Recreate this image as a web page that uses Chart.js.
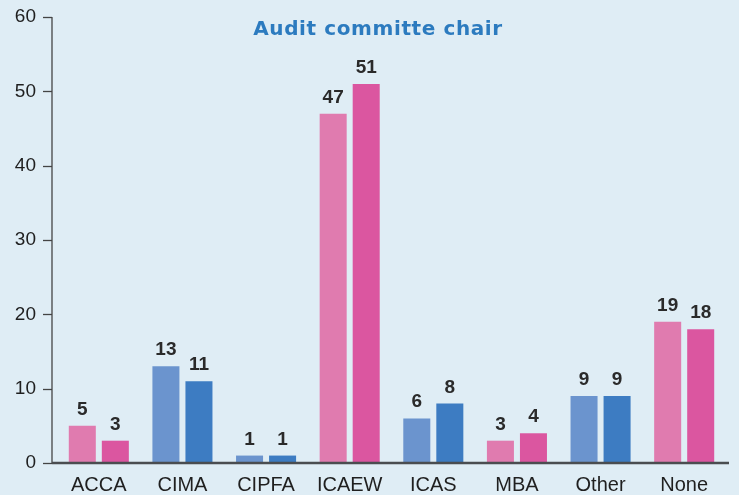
<!DOCTYPE html>
<html>
<head>
<meta charset="utf-8">
<script src="https://cdn.jsdelivr.net/npm/chart.js@4"></script>
<style>
html,body{margin:0;padding:0;background:#dfedf5;}
#wrap{width:739px;height:495px;position:relative;}
</style>
</head>
<body>
<div id="wrap"><canvas id="c" width="739" height="495"></canvas></div>
<script>
const categories = ["ACCA","CIMA","CIPFA","ICAEW","ICAS","MBA","Other","None"];
const seriesA = [5,13,1,47,6,3,9,19];
const seriesB = [3,11,1,51,8,4,9,18];
const yTicks = [0,10,20,30,40,50,60];
const colorGroup = ["pink","blue","blue","pink","blue","pink","blue","pink"];
const titleText = "Audit committe chair";

const lightCol = {pink:"#e07baf", blue:"#6b94ce"};
const darkCol = {pink:"#db56a0", blue:"#3d7cc2"};

const axisPlugin = {
  id:'axisPlugin',
  beforeDraw(chart){
    const ctx = chart.ctx;
    ctx.save();
    ctx.fillStyle = '#dfedf5';
    ctx.fillRect(0,0,chart.width,chart.height);
    ctx.restore();
  },
  afterDatasetsDraw(chart){
    const ctx = chart.ctx;
    const y = chart.scales.y;
    const axX = 52;
    ctx.save();
    ctx.strokeStyle = '#444';
    ctx.lineWidth = 1.3;
    ctx.beginPath();
    ctx.moveTo(axX, y.getPixelForValue(60));
    ctx.lineTo(axX, y.getPixelForValue(0));
    ctx.stroke();
    yTicks.forEach(v=>{
      const py = Math.round(y.getPixelForValue(v))+0.5;
      ctx.beginPath();
      ctx.moveTo(43, py);
      ctx.lineTo(axX, py);
      ctx.stroke();
    });
    ctx.lineWidth = 2.5;
    ctx.strokeStyle = '#4a4d50';
    ctx.beginPath();
    const by = y.getPixelForValue(0);
    ctx.moveTo(axX, by);
    ctx.lineTo(729, by);
    ctx.stroke();
    // data labels
    ctx.fillStyle = '#2a2a2a';
    ctx.font = 'bold 19px "Liberation Sans", Arial, sans-serif';
    ctx.textAlign = 'center';
    ctx.textBaseline = 'alphabetic';
    chart.data.datasets.forEach((ds,di)=>{
      chart.getDatasetMeta(di).data.forEach((bar,i)=>{
        ctx.fillText(String(ds.data[i]), bar.x, bar.y - 11);
      });
    });
    // title
    ctx.fillStyle = '#2c7bbf';
    ctx.font = 'bold 20px "DejaVu Sans", sans-serif';
    ctx.letterSpacing = '0.6px';
    ctx.fillText(titleText, 378, 35);
    ctx.restore();
  }
};

new Chart(document.getElementById('c'), {
  type:'bar',
  data:{
    labels:categories,
    datasets:[
      {data:seriesA, backgroundColor:colorGroup.map(g=>lightCol[g]), borderWidth:0},
      {data:seriesB, backgroundColor:colorGroup.map(g=>darkCol[g]), borderWidth:0}
    ]
  },
  options:{
    responsive:false,
    animation:false,
    devicePixelRatio:1,
    categoryPercentage:0.79,
    barPercentage:0.818,
    layout:{padding:{left:0,right:13,top:17,bottom:0}},
    plugins:{legend:{display:false},tooltip:{enabled:false},title:{display:false}},
    scales:{
      x:{
        grid:{display:false,drawTicks:false},
        border:{display:false},
        ticks:{color:'#1f1f1f',font:{size:20,family:'"Liberation Sans", Arial, sans-serif'},padding:10,maxRotation:0},
        afterFit(s){s.height = 32; s.paddingLeft = 0; s.paddingRight = 0;}
      },
      y:{
        min:0,max:60,
        grid:{display:false,drawTicks:false},
        border:{display:false},
        ticks:{stepSize:10,color:'#1f1f1f',font:{size:19,family:'"Liberation Sans", Arial, sans-serif'},padding:21},
        afterFit(s){s.width = 57; s.paddingTop = 0; s.paddingBottom = 0;}
      }
    }
  },
  plugins:[axisPlugin]
});
</script>
</body>
</html>
